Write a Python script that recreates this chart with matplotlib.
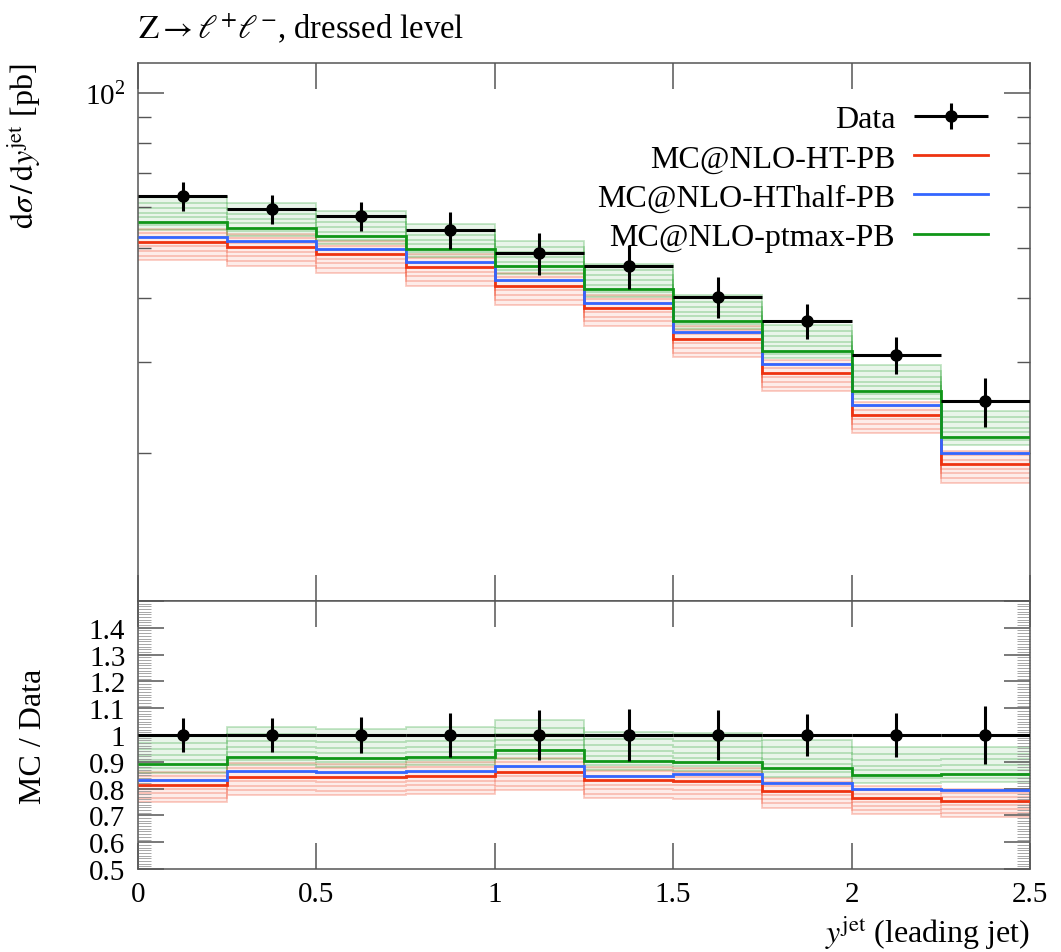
import numpy as np
import matplotlib
matplotlib.use("Agg")
import matplotlib.pyplot as plt
from matplotlib.ticker import MultipleLocator, LogLocator, NullFormatter, FuncFormatter
from matplotlib.legend_handler import HandlerErrorbar

plt.rcParams['font.family'] = 'Liberation Serif'
plt.rcParams['mathtext.fontset'] = 'stix'

# binning in leading-jet rapidity
bin_edges = [0.0, 0.25, 0.5, 0.75, 1.0, 1.25, 1.5, 1.75, 2.0, 2.25, 2.5]

# measured cross section [pb] and relative uncertainty
data_xs = [63.1, 59.5, 57.7, 54.2, 48.9, 46.1, 40.2, 36.1, 31.0, 25.2]
data_relerr = [0.063, 0.065, 0.066, 0.083, 0.093, 0.097, 0.092, 0.078, 0.083, 0.11]

# predictions [pb]
mc_ht = [51.4, 50.2, 48.6, 45.9, 42.2, 38.3, 33.3, 28.6, 23.7, 19.0]
mc_hthalf = [52.6, 51.6, 49.7, 47.0, 43.3, 39.1, 34.4, 29.7, 24.8, 20.0]
mc_ptmax = [56.2, 54.7, 52.7, 49.8, 46.1, 41.6, 36.1, 31.6, 26.4, 21.5]

# scale-variation factors (faint lines around central curves)
ht_var = [1.06, 1.04, 1.02, 0.98, 0.96, 0.94, 0.92]
ptmax_var = [1.12, 1.09, 1.065, 1.04, 1.02, 0.985, 0.965]

labels = ['MC@NLO-HT-PB', 'MC@NLO-HThalf-PB', 'MC@NLO-ptmax-PB']
colors = ['#EE3311', '#3366FF', '#109618']

edges = np.array(bin_edges)
data = np.array(data_xs)
relerr = np.array(data_relerr)
centers = 0.5 * (edges[:-1] + edges[1:])
halfw = 0.5 * (edges[1:] - edges[:-1])

fig = plt.figure(figsize=(10.61, 9.53), dpi=100)
ax = fig.add_axes([0.130, 0.3683, 0.8407, 0.5645])
rax = fig.add_axes([0.130, 0.0871, 0.8407, 0.2812])

handles = []
for mc, var, col, lab in zip([mc_ht, mc_hthalf, mc_ptmax], [ht_var, None, ptmax_var], colors, labels):
    vals = np.array(mc)
    for a, scale in [(ax, 1.0), (rax, data)]:
        v = vals / scale
        if var is not None:
            a.stairs(v * max(var), edges, baseline=v * min(var), fill=True,
                     color=col, alpha=0.09, lw=0, zorder=1)
            for f in var:
                a.stairs(v * f, edges, baseline=None, color=col, alpha=0.25, lw=1.3, zorder=1)
        a.stairs(v, edges, baseline=None, color=col, lw=2.0, zorder=3)
    handles.append(plt.Line2D([], [], color=col, lw=2.0))

eb = ax.errorbar(centers, data, xerr=halfw, yerr=data * relerr, fmt='o', color='black',
                 ms=8, elinewidth=2.2, capsize=0, zorder=5)
rax.errorbar(centers, np.ones_like(data), xerr=halfw, yerr=relerr, fmt='o', color='black',
             ms=8, elinewidth=2.2, capsize=0, zorder=5)

# main panel axes
ax.set_yscale('log')
ax.set_xlim(0, 2.5)
ax.set_ylim(10.3, 114.4)
ax.yaxis.set_major_locator(LogLocator(base=10))
ax.yaxis.set_minor_locator(LogLocator(base=10, subs=np.arange(2, 10)))
ax.yaxis.set_minor_formatter(NullFormatter())
ax.xaxis.set_major_locator(MultipleLocator(0.5))
ax.tick_params(labelbottom=False)

rax.set_xlim(0, 2.5)
rax.set_ylim(0.5, 1.5)
rax.xaxis.set_major_locator(MultipleLocator(0.5))
rax.yaxis.set_major_locator(MultipleLocator(0.1))
rax.yaxis.set_minor_locator(MultipleLocator(0.01))
rax.yaxis.set_major_formatter(FuncFormatter(lambda v, p: '' if v > 1.45 else '%g' % round(v, 2)))
rax.xaxis.set_major_formatter(FuncFormatter(lambda v, p: '%g' % round(v, 2)))

for a in (ax, rax):
    a.tick_params(which='both', direction='in', top=True, right=True, color='#555555',
                  labelsize=21)
    a.tick_params(which='major', length=19, pad=9, width=1.1)
    a.tick_params(which='minor', length=9.5, width=1.0)
    for s in a.spines.values():
        s.set_color('#555555')
        s.set_linewidth(1.1)
rax.tick_params(which='minor', width=0.6, color='#999999')

ax.text(0.0, 1.048, r'$\mathrm{Z} \rightarrow \ell^{+}\ell^{-}$, dressed level',
        transform=ax.transAxes, fontsize=23.5, ha='left', va='baseline')

ax.set_ylabel(r'$\mathrm{d}\sigma\,/\,\mathrm{d}y^{\mathrm{jet}}$ [pb]', fontsize=23, loc='top')
ax.yaxis.set_label_coords(-0.1065, 1.0)
rax.set_ylabel('MC / Data', fontsize=23)
rax.yaxis.set_label_coords(-0.101, 0.5)
rax.set_xlabel(r'$y^{\mathrm{jet}}$ (leading jet)', fontsize=23, loc='right')
rax.xaxis.set_label_coords(1.0, -0.165)

leg = ax.legend([eb] + handles, ['Data'] + labels, loc='upper right',
                bbox_to_anchor=(0.985, 0.976), frameon=False, markerfirst=False,
                fontsize=23, handlelength=2.3, labelspacing=0.31, handletextpad=0.6,
                handler_map={eb: HandlerErrorbar(xerr_size=1.15, yerr_size=0.4)})
for t in leg.get_texts():
    t.set_ha('right')

fig.savefig('out.png', dpi=100)
